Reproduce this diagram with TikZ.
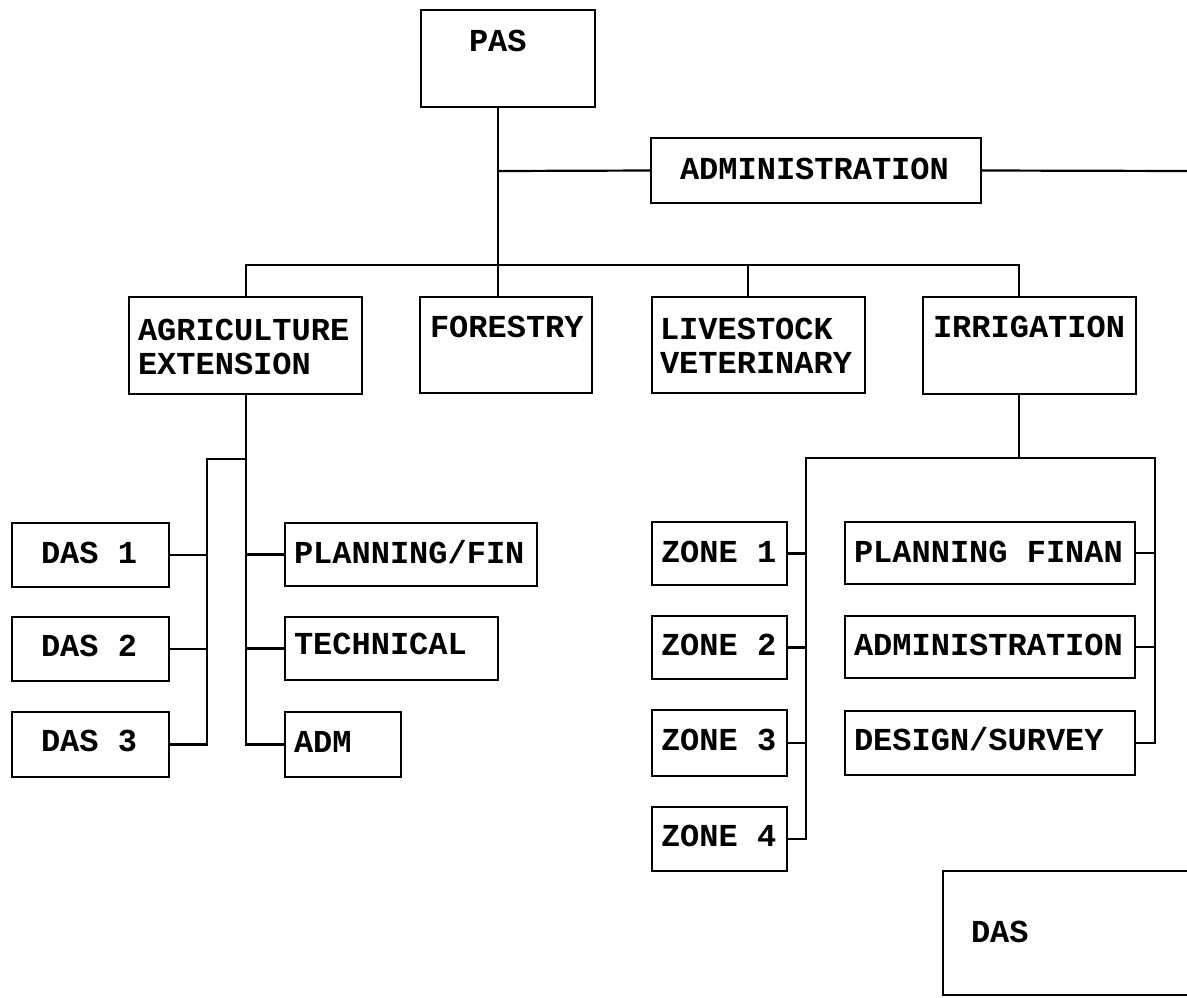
\documentclass[tikz,border=0pt]{standalone}
\usepackage{fontspec}
\newfontfamily\courfont{Liberation Mono}
\tikzset{
  box/.style={draw, line width=1.4pt, inner sep=0pt, outer sep=0pt},
  lbl/.style={anchor=base west, inner sep=0pt, outer sep=0pt, font=\courfont\bfseries\fontsize{16}{17}\selectfont},
  lbltwo/.style={anchor=north west, inner sep=0pt, outer sep=0pt, align=left, font=\courfont\bfseries\fontsize{16}{17}\selectfont},
  conn/.style={draw, line width=1.1pt}
}
\newcommand{\bx}[5]{\node[box, minimum width={(#4-#2)*0.5pt}, minimum height={(#5-#3)*0.5pt}] (#1) at ({(#2+#4)/2},{(#3+#5)/2}) {};}
\begin{document}
\begin{tikzpicture}[x=0.5pt, y=-0.5pt]
\fill[white] (0,0) rectangle (1187,997);
\useasboundingbox (0,0) rectangle (1187,997);
% boxes
\bx{pas}{421}{10}{595}{107}
\bx{adm}{651}{138}{981}{203}
\bx{ag}{129}{297}{362}{394}
\bx{for}{420}{297}{592}{393}
\bx{liv}{652}{297}{865}{393}
\bx{irr}{923}{297}{1136}{394}
\bx{das1}{12}{523}{169}{587}
\bx{das2}{12}{617}{169}{681}
\bx{das3}{12}{712}{169}{777}
\bx{pf}{285}{523}{537}{586}
\bx{tech}{285}{617}{498}{680}
\bx{adms}{285}{712}{401}{777}
\bx{z1}{652}{522}{787}{585}
\bx{z2}{652}{616}{787}{679}
\bx{z3}{652}{710}{787}{776}
\bx{z4}{652}{807}{787}{871}
\bx{pfin}{845}{522}{1135}{584}
\bx{iadm}{845}{616}{1135}{678}
\bx{ds}{845}{711}{1135}{775}
\bx{dasb}{943}{871}{1300}{995}
% texts
\node[lbl] (pasT) at (469,51) {PAS};
\node[lbl] (admT) at (680,179) {ADMINISTRATION};
\node[lbltwo] (agT) at (138,319) {AGRICULTURE\\EXTENSION};
\node[lbl] (forT) at (430,337) {FORESTRY};
\node[lbltwo] (livT) at (660,318) {LIVESTOCK\\VETERINARY};
\node[lbl] (irrT) at (933,337) {IRRIGATION};
\node[lbl] (das1T) at (41,563) {DAS 1};
\node[lbl] (das2T) at (41,656) {DAS 2};
\node[lbl] (das3T) at (41,751) {DAS 3};
\node[lbl] (pfT) at (294,563) {PLANNING/FIN};
\node[lbl] (techT) at (294,654) {TECHNICAL};
\node[lbl] (admsT) at (294,752) {ADM};
\node[lbl] (z1T) at (661,562) {ZONE 1};
\node[lbl] (z2T) at (661,655) {ZONE 2};
\node[lbl] (z3T) at (661,750) {ZONE 3};
\node[lbl] (z4T) at (661,846) {ZONE 4};
\node[lbl] (pfinT) at (854,562) {PLANNING FINAN};
\node[lbl] (iadmT) at (854,655) {ADMINISTRATION};
\node[lbl] (dsT) at (854,750) {DESIGN/SURVEY};
\node[lbl] (dasbT) at (971,942) {DAS};
% junction coordinates
\coordinate (jA) at (498,171);
\coordinate (admR) at (1190,171);
\coordinate (bL) at (246,265);
\coordinate (bLiv) at (748,265);
\coordinate (bR) at (1019,265);
\coordinate (dL) at (207,459);
\coordinate (iJ) at (1019,458);
\coordinate (zL) at (806,458);
\coordinate (zR) at (1155,458);
% connectors
\draw[conn] (pas.south -| jA) -- (for.north -| jA);
\draw[conn] (jA) -- (adm.west);
\draw[conn] (adm.east) -- (admR);
\draw[conn] (ag.north -| bL) -- (bL) -- (bR) -- (irr.north -| bR);
\draw[conn] (bLiv) -- (liv.north -| bLiv);
\draw[conn] (ag.south -| bL) |- (adms.west);
\draw[conn] (pf.west) -- (pf.west -| bL);
\draw[conn] (tech.west) -- (tech.west -| bL);
\draw[conn] (dL -| bL) -- (dL) |- (das3.east);
\draw[conn] (das1.east) -- (das1.east -| dL);
\draw[conn] (das2.east) -- (das2.east -| dL);
\draw[conn] (irr.south -| iJ) -- (iJ);
\draw[conn] (z4.east) -| (zL) -- (zR) |- (ds.east);
\draw[conn] (z1.east) -- (z1.east -| zL);
\draw[conn] (z2.east) -- (z2.east -| zL);
\draw[conn] (z3.east) -- (z3.east -| zL);
\draw[conn] (pfin.east) -- (pfin.east -| zR);
\draw[conn] (iadm.east) -- (iadm.east -| zR);
\end{tikzpicture}
\end{document}
